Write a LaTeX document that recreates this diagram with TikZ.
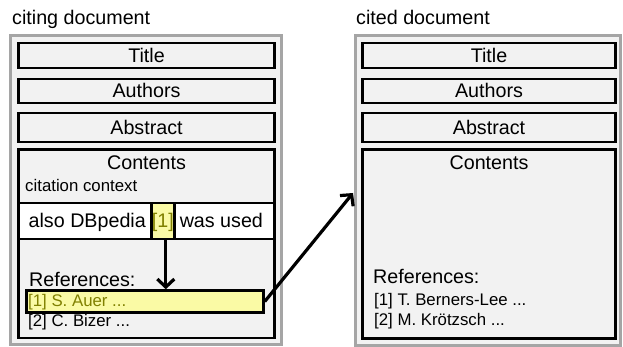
\documentclass[tikz,border=0pt]{standalone}
\usepackage{fontspec}
\setmainfont{Liberation Sans}
\usetikzlibrary{positioning, arrows.meta}

\definecolor{framegray}{RGB}{165,165,165}
\definecolor{docgray}{RGB}{242,242,242}
\definecolor{citeyellow}{RGB}{250,250,165}
\definecolor{citeolive}{RGB}{128,128,0}

\begin{document}
\begin{tikzpicture}[
        x=1pt, y=-1pt,
        font=\fontsize{19.7}{23}\selectfont,
        docframe/.style={rectangle, draw=framegray, line width=3pt, fill=docgray, inner sep=0pt},
        part/.style={rectangle, draw=black, line width=2.5pt, fill=docgray, inner sep=0pt, text height=14pt, text depth=0pt},
        cite/.style={part, fill=citeyellow, text=citeolive},
        txt/.style={anchor=base west, inner sep=0pt},
        smalltxt/.style={txt, font=\fontsize{16.8}{20}\selectfont},
        link/.style={line width=3.2pt, -{Straight Barb[length=8pt,width=17pt,line width=3.2pt]}}
        ]
        \useasboundingbox (0,0) rectangle (623,347);
        
        % citing document
        \node (citinglabel) [txt] at (12,25) {citing document};
        \node (citing) [docframe, minimum width=271pt, minimum height=309pt] at (145.5,190) {};
        \node (ctitle) [part, minimum width=256pt, minimum height=25pt] at (146.5,55.5) {Title};
        \node (cauthors) [part, minimum width=256pt, minimum height=24pt] at (146.5,91) {Authors};
        \node (cabstract) [part, minimum width=256pt, minimum height=29pt] at (146.5,127.5) {Abstract};
        \node (ccontents) [part, minimum width=256pt, minimum height=188.5pt] at (146.5,243.75) {};
        \node (ccontentslabel) [anchor=base, inner sep=0pt] at (146.5,170) {Contents};
        \node (context) [smalltxt] at (25,191.5) {citation context};
        \node (sentence) [part, fill=white, minimum width=256pt, minimum height=36pt] at (146.5,221) {};
        \node (citeword) [cite, minimum width=23pt, minimum height=36pt] at (162.8,221) {[1]};
        \node (before) [anchor=base east, inner sep=0pt] at ([xshift=-4pt]citeword.base west) {also DBpedia};
        \node (after) [anchor=base west, inner sep=0pt] at ([xshift=4pt]citeword.base east) {was used};
        \node (crefs) [txt] at (29,286) {References:};
        \node (refbox) [cite, minimum width=237pt, minimum height=22pt] at (145,301.5) {};
        \node (cref1) [smalltxt, text=citeolive] at (28,306.5) {[1] S. Auer ...};
        \node (cref2) [smalltxt] at (28,326.5) {[2] C. Bizer ...};
        
        % cited document
        \node (citedlabel) [txt] at (356,25) {cited document};
        \node (cited) [docframe, minimum width=265.5pt, minimum height=310pt] at (487.75,190.5) {};
        \node (dtitle) [part, minimum width=253pt, minimum height=25pt] at (489,55.5) {Title};
        \node (dauthors) [part, minimum width=253pt, minimum height=24pt] at (489,91) {Authors};
        \node (dabstract) [part, minimum width=253pt, minimum height=29pt] at (489,127.5) {Abstract};
        \node (dcontents) [part, minimum width=253pt, minimum height=189pt] at (489,244) {};
        \node (dcontentslabel) [anchor=base, inner sep=0pt] at (489,170) {Contents};
        \node (drefs) [txt] at (373,283.5) {References:};
        \node (dref1) [smalltxt] at (374,305) {[1] T. Berners-Lee ...};
        \node (dref2) [smalltxt] at (374,325) {[2] M. Krötzsch ...};
        \coordinate (citedin) at (353,193);
        
        \draw [link] ([xshift=3pt]citeword.south) -- ([xshift=3pt]citeword.south |- refbox.north);
        \draw [link] (refbox.east) -- (citedin);
        
    \end{tikzpicture}
\end{document}
